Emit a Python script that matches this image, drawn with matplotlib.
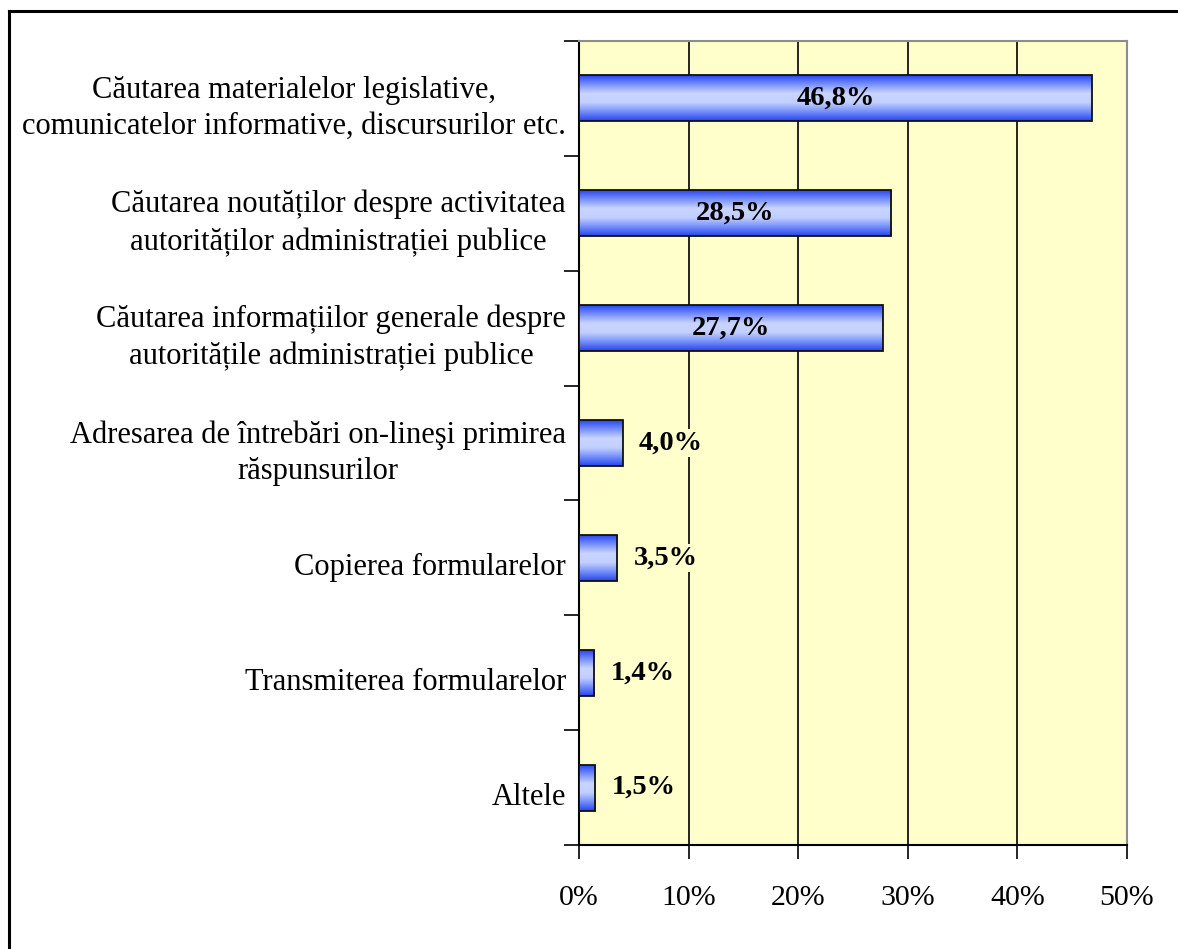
import numpy as np
import matplotlib
matplotlib.use("Agg")
import matplotlib.pyplot as plt
from matplotlib.colors import LinearSegmentedColormap
from matplotlib.lines import Line2D

# Chart data
categories = [
    "Căutarea materialelor legislative,\ncomunicatelor informative, discursurilor etc.",
    "Căutarea noutăților despre activitatea\nautorităților administrației publice",
    "Căutarea informațiilor generale despre\nautoritățile administrației publice",
    "Adresarea de întrebări on-lineşi primirea\nrăspunsurilor",
    "Copierea formularelor",
    "Transmiterea formularelor",
    "Altele",
]
values = [46.8, 28.5, 27.7, 4.0, 3.5, 1.4, 1.5]
value_labels = ["46,8%", "28,5%", "27,7%", "4,0%", "3,5%", "1,4%", "1,5%"]
x_ticks = [0, 10, 20, 30, 40, 50]
x_tick_labels = ["0%", "10%", "20%", "30%", "40%", "50%"]

plt.rcParams['font.family'] = ['Liberation Serif', 'DejaVu Serif']

bg = "#FFFFCC"
bar_cmap = LinearSegmentedColormap.from_list(
    "bar", ["#2A48F2", "#7A92FA", "#C9D5FF", "#C2CFFF", "#7690F9", "#2846F0"])

fig = plt.figure(figsize=(11.78, 9.49), dpi=100)
ax = fig.add_axes([0.4915, 0.1096, 0.4652, 0.8472])
ax.set_facecolor(bg)

y = np.arange(len(categories))
bar_h = 0.40
bars = ax.barh(y, values, height=bar_h, facecolor="none",
               edgecolor="#111111", linewidth=1.3, zorder=4)

# vertical gradient inside each bar
grad = np.linspace(0, 1, 64).reshape(-1, 1)
for b in bars:
    x0, y0 = b.get_x(), b.get_y()
    im = ax.imshow(grad, cmap=bar_cmap, aspect="auto", zorder=3,
                   extent=(x0, x0 + b.get_width(), y0 + b.get_height(), y0),
                   interpolation="bilinear")
    im.set_clip_path(b)

ax.set_xlim(0, 50)
ax.set_ylim(len(categories) - 0.5, -0.5)

# grid lines
ax.set_xticks(x_ticks)
ax.set_xticklabels(x_tick_labels, fontsize=21.5)
ax.xaxis.grid(True, color="black", linewidth=1.2, zorder=1)
ax.set_axisbelow(True)

# y ticks at category boundaries, labels drawn separately
ax.set_yticks(np.arange(-0.5, len(categories), 1.0))
ax.set_yticklabels([])
ax.tick_params(axis="y", length=11, width=1.2, direction="out")
ax.tick_params(axis="x", length=10, width=1.2, direction="out", pad=19)

for s in ["left", "bottom"]:
    ax.spines[s].set_color("black")
    ax.spines[s].set_linewidth(1.5)
for s in ["top", "right"]:
    ax.spines[s].set_color("#8C8C8C")
    ax.spines[s].set_linewidth(1.5)

# category labels
for i, cat in enumerate(categories):
    ax.annotate(cat, xy=(0, i), xycoords=("axes fraction", "data"),
                xytext=(-13, -10), textcoords="offset pixels",
                ha="right", va="center", multialignment="center",
                fontsize=22, linespacing=1.34)

# value labels
for i, (v, lab) in enumerate(zip(values, value_labels)):
    if v > 10:
        ax.text(v / 2, i, lab, ha="center", va="center", fontsize=20.5,
                fontweight="bold", zorder=6)
    else:
        ax.annotate(lab, xy=(v, i), xytext=(16, 0), textcoords="offset pixels",
                    ha="left", va="center", fontsize=20.5, fontweight="bold",
                    zorder=6,
                    bbox=dict(facecolor=bg, edgecolor="none", pad=1))

# outer frame (only top and left visible in the crop)
fig.add_artist(Line2D([0.0074, 0.0074], [0, 0.9889], color="black",
                      linewidth=2.2, transform=fig.transFigure))
fig.add_artist(Line2D([0.0074, 1.0], [0.9889, 0.9889], color="black",
                      linewidth=2.2, transform=fig.transFigure))

fig.savefig("out.png", dpi=100)
